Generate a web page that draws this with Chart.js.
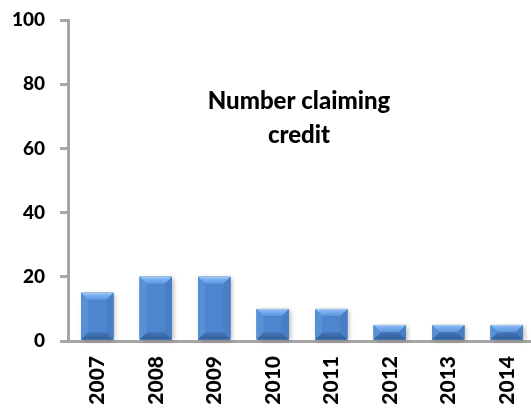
<!DOCTYPE html>
<html>
<head>
<meta charset="utf-8">
<script src="https://cdn.jsdelivr.net/npm/chart.js@4.4.1/dist/chart.umd.min.js"></script>
<style>
  html, body { margin: 0; padding: 0; background: #fff; overflow: hidden; }
  #wrap { position: relative; width: 536px; height: 412px; }
</style>
</head>
<body>
<div id="wrap"><canvas id="chart"></canvas></div>
<script>
const years = ["2007", "2008", "2009", "2010", "2011", "2012", "2013", "2014"];
const claims = [15, 20, 20, 10, 10, 5, 5, 5];
const yTicks = [0, 20, 40, 60, 80, 100];
const titleLines = ["Number claiming", "credit"];

const AXIS_GREY = "#a6a6a6";
const FONT = "Lato, 'Liberation Sans', sans-serif";

// soft drop shadow under each bar
const barShadow = {
  id: "barShadow",
  beforeDatasetsDraw(chart) {
    const ctx = chart.ctx;
    const meta = chart.getDatasetMeta(0);
    ctx.save();
    ctx.shadowColor = "rgba(0,0,0,0.3)";
    ctx.shadowBlur = 5;
    ctx.shadowOffsetX = 2;
    ctx.shadowOffsetY = 1;
    ctx.fillStyle = "#4f81bd";
    meta.data.forEach(bar => {
      const p = bar.getProps(["x", "y", "base", "width"], true);
      ctx.fillRect(p.x - p.width / 2, p.y, p.width, p.base - p.y);
    });
    ctx.restore();
  }
};

// bevelled faces drawn over the plain bars
const barBevel = {
  id: "barBevel",
  afterDatasetsDraw(chart) {
    const ctx = chart.ctx;
    const meta = chart.getDatasetMeta(0);
    ctx.save();
    meta.data.forEach(bar => {
      const p = bar.getProps(["x", "y", "base", "width"], true);
      const l = p.x - p.width / 2, r = p.x + p.width / 2;
      const t = p.y, b = p.base;
      const dt = Math.min(7, (b - t) / 2);
      const db = Math.min(7, (b - t) / 2);

      const poly = (pts, fill) => {
        ctx.beginPath();
        ctx.moveTo(pts[0][0], pts[0][1]);
        for (let i = 1; i < pts.length; i++) ctx.lineTo(pts[i][0], pts[i][1]);
        ctx.closePath();
        ctx.fillStyle = fill;
        ctx.fill();
      };

      poly([[l, t], [r, t], [r, b], [l, b]], "#4d86cf");

      poly([[l, t], [l + dt, t + dt], [l + db, b - db], [l, b]], "#5890d6");
      poly([[r, t], [r - dt, t + dt], [r - db, b - db], [r, b]], "#477ec4");

      const top = ctx.createLinearGradient(0, t, 0, t + dt);
      top.addColorStop(0, "#a2cbf7");
      top.addColorStop(0.35, "#7cb0ef");
      top.addColorStop(1, "#5d95de");
      poly([[l, t], [r, t], [r - dt, t + dt], [l + dt, t + dt]], top);

      const bot = ctx.createLinearGradient(0, b - db, 0, b);
      bot.addColorStop(0, "#4272b4");
      bot.addColorStop(1, "#33619e");
      poly([[l, b], [r, b], [r - db, b - db], [l + db, b - db]], bot);
    });
    ctx.restore();
  }
};

// two-line caption inside the plot
const innerTitle = {
  id: "innerTitle",
  afterDraw(chart) {
    const ctx = chart.ctx;
    ctx.save();
    ctx.font = "900 24px " + FONT;
    ctx.fillStyle = "#000";
    ctx.textAlign = "center";
    ctx.textBaseline = "alphabetic";
    ctx.fillText(titleLines[0], 299, 109);
    ctx.fillText(titleLines[1], 299, 143);
    ctx.restore();
  }
};

new Chart(document.getElementById("chart"), {
  type: "bar",
  data: {
    labels: years,
    datasets: [
      {
        label: "Number claiming credit",
        data: claims,
        backgroundColor: "#4f81bd",
        borderWidth: 0,
        barPercentage: 0.55,
        categoryPercentage: 1
      }
    ]
  },
  options: {
    responsive: true,
    maintainAspectRatio: false,
    animation: false,
    layout: { padding: { top: 20, right: 0, left: 0, bottom: 0 } },
    plugins: {
      legend: { display: false },
      tooltip: { enabled: false }
    },
    scales: {
      x: {
        grid: { display: false, drawTicks: false },
        border: { display: true, color: AXIS_GREY, width: 3 },
        ticks: {
          minRotation: 90,
          maxRotation: 90,
          padding: 15,
          color: "#000",
          font: { family: FONT, size: 21, weight: "900" }
        },
        afterFit(scale) {
          scale.height = 71;
          scale.paddingLeft = 0;
          scale.paddingRight = 0;
        }
      },
      y: {
        min: 0,
        max: 100,
        afterBuildTicks(scale) { scale.ticks = yTicks.map(v => ({ value: v })); },
        grid: {
          drawOnChartArea: false,
          drawTicks: true,
          tickLength: 8,
          color: AXIS_GREY,
          lineWidth: 3
        },
        border: { display: true, color: AXIS_GREY, width: 3 },
        ticks: {
          padding: 15,
          color: "#000",
          font: { family: FONT, size: 19, weight: "900" }
        },
        afterFit(scale) {
          scale.width = 68;
          scale.paddingTop = 0;
          scale.paddingBottom = 0;
        }
      }
    }
  },
  plugins: [barShadow, barBevel, innerTitle]
});
</script>
</body>
</html>
